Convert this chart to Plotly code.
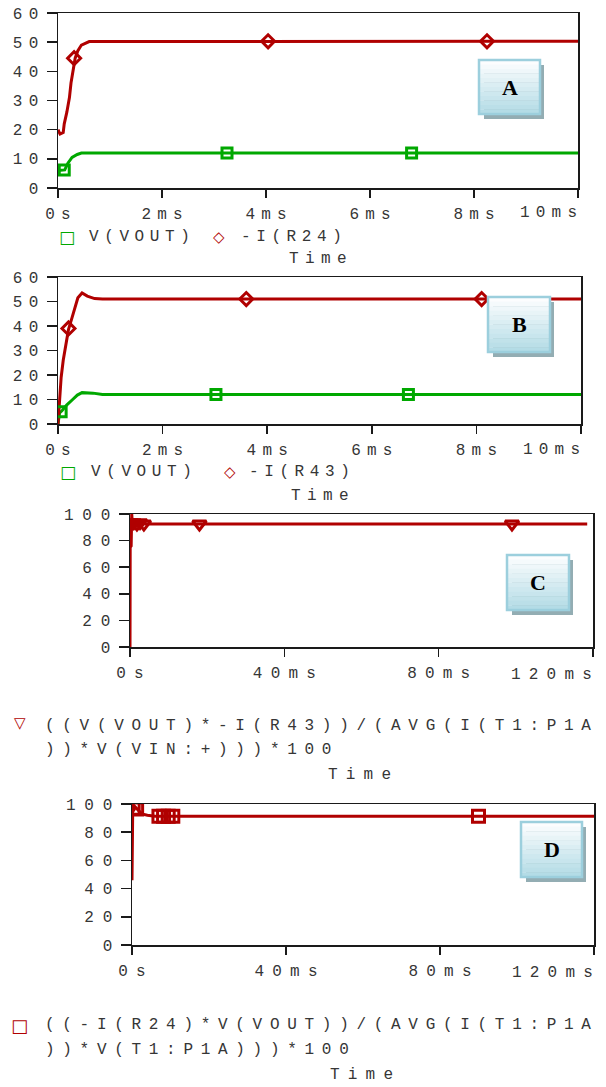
import plotly.graph_objects as go

W, H = 606, 1087

# ---------------- data (time in ms) ----------------
# Panel A
a_vout_t = [0, 0.13, 0.19, 0.27, 0.37, 0.45, 10]
a_vout = [6.0, 6.2, 8.5, 10.5, 11.5, 12.0, 12.0]
a_ir24_t = [0, 0.04, 0.10, 0.12, 0.17, 0.22, 0.25, 0.29, 0.33, 0.38, 0.45, 0.60, 10]
a_ir24 = [20, 18.5, 19, 22, 26, 31, 36, 40, 44.5, 47, 49, 50.2, 50.3]
a_vout_mk_t = [0.12, 3.25, 6.8]
a_vout_mk = [6.2, 12.0, 12.0]
a_ir24_mk_t = [0.31, 4.04, 8.25]
a_ir24_mk = [44.5, 50.3, 50.3]

# Panel B
b_vout_t = [0, 0.03, 0.08, 0.17, 0.27, 0.37, 0.46, 0.67, 0.85, 10]
b_vout = [0, 4.5, 5.5, 7.8, 9.8, 11.8, 12.8, 12.6, 12.0, 12.0]
b_ir43_t = [0, 0.03, 0.06, 0.10, 0.15, 0.20, 0.27, 0.33, 0.38, 0.46, 0.56, 0.70, 0.85, 10]
b_ir43 = [0, 12, 19, 26, 31.5, 38.5, 43.5, 48, 51.5, 53.5, 52.2, 51.2, 51, 51]
b_vout_mk_t = [0.06, 3.02, 6.7]
b_vout_mk = [5.0, 12.0, 12.0]
b_ir43_mk_t = [0.2, 3.6, 8.1]
b_ir43_mk = [39, 51, 51]

# Panel C
c_t = [0, 0.05, 0.3, 0.45, 0.7, 1.0, 1.5, 2.5, 4.0, 118.5]
c_eff = [0, 75, 76, 100, 88, 95, 91, 93.5, 92.5, 92.5]
c_mk_t = [0.3, 1.0, 1.8, 2.6, 3.6, 18, 99]
c_mk = [93.5, 93.5, 92.5, 93.5, 92.5, 92.5, 92.5]

# Panel D
d_t = [0, 0.1, 0.2, 0.4, 0.8, 1.5, 2.5, 4, 6, 120]
d_eff = [46, 85, 100, 95, 98, 96, 93, 92, 91.4, 91.4]
d_mk_t = [0.3, 1.2, 7.0, 8.2, 9.4, 10.6, 90]
d_mk = [97, 96.5, 91.4, 91.4, 91.4, 91.4, 91.4]

# tick labels
ab_xticks = [0, 2, 4, 6, 8, 10]
ab_xlabels = ["0s", "2ms", "4ms", "6ms", "8ms", "10ms"]
ab_yticks = [0, 10, 20, 30, 40, 50, 60]
cd_xticks = [0, 40, 80, 120]
cd_xlabels = ["0s", "40ms", "80ms", "120ms"]
cd_yticks = [0, 20, 40, 60, 80, 100]

RED = "#b00000"
GREEN = "#00a800"
AXC = "#1a1a1a"
TXT = "#363636"
MONO = "Liberation Mono, Courier New, monospace"


def sp(s, ls):
    if len(s) <= 1:
        return s
    return f'<span style="letter-spacing:{ls}px">{s[:-1]}</span>{s[-1]}'


def px(x):
    return x / W


def py(y):
    return 1 - y / H


fig = go.Figure()
ann = []

panels = [
    # suffix, x-range, y-range, xdomain px, ydomain px(top,bottom), xticks, labels, yticks, spacing x, spacing y, label y px
    ("", [0, 10], [0, 60], (58, 578), (13, 188), ab_xticks, ab_xlabels, ab_yticks, 6.2, 6.4, 213),
    ("2", [0, 10], [0, 60], (58, 581), (277, 424), ab_xticks, ab_xlabels, ab_yticks, 6.2, 6.4, 450),
    ("3", [0, 120], [0, 100], (130, 593), (514, 647), cd_xticks, cd_xlabels, cd_yticks, 8.2, 8.8, 675),
    ("4", [0, 120], [0, 100], (132, 594), (804, 945), cd_xticks, cd_xlabels, cd_yticks, 8.2, 8.8, 973),
]

layout_axes = {}
for i, (n, xr, yr, xd, yd, xt, xl, yt, lsx, lsy, ly) in enumerate(panels):
    xname = "xaxis" + n
    yname = "yaxis" + n
    yref = "y" + n
    xref = "x" + n
    main_text = [sp(s, lsx) for s in xl[:-1]] + [""]
    layout_axes[xname] = dict(
        domain=[px(xd[0]), px(xd[1])], range=xr, anchor=yref, automargin=False,
        showline=True, mirror=True, linecolor=AXC, linewidth=1.5,
        ticks="outside", ticklen=8, tickwidth=1.5, tickcolor=AXC,
        tickvals=xt, ticktext=main_text, showgrid=False, zeroline=False,
        tickfont=dict(family=MONO, size=16, color=TXT), ticklabelstandoff=2,
        ticklabeloverflow="allow", fixedrange=True,
    )
    layout_axes[yname] = dict(
        domain=[py(yd[1]), py(yd[0])], range=yr, anchor=xref, automargin=False,
        showline=True, mirror=True, linecolor=AXC, linewidth=1.5,
        ticks="outside", ticklen=10, tickwidth=1.5, tickcolor=AXC,
        tickvals=yt, ticktext=[sp(str(v), lsy) for v in yt],
        showgrid=False, zeroline=False,
        tickfont=dict(family=MONO, size=16, color=TXT), ticklabelstandoff=5,
        ticklabeloverflow="allow", fixedrange=True,
    )
    # last x tick label is right-aligned to its tick (as in the original)
    ann.append(dict(x=xt[-1], xref=xref, y=py(ly), yref="paper", text=sp(xl[-1], lsx),
                    showarrow=False, xanchor="right", yanchor="middle", xshift=1,
                    font=dict(family=MONO, size=16, color=TXT)))


def line(x, y, color, n):
    fig.add_trace(go.Scatter(x=x, y=y, mode="lines", line=dict(color=color, width=3),
                             xaxis="x" + n, yaxis="y" + n, showlegend=False))


def marks(x, y, color, sym, size, n):
    fig.add_trace(go.Scatter(x=x, y=y, mode="markers",
                             marker=dict(symbol=sym, size=size, color=color,
                                         line=dict(color=color, width=3)),
                             xaxis="x" + n, yaxis="y" + n, showlegend=False))


line(a_vout_t, a_vout, GREEN, "")
line(a_ir24_t, a_ir24, RED, "")
marks(a_vout_mk_t, a_vout_mk, GREEN, "square-open", 10, "")
marks(a_ir24_mk_t, a_ir24_mk, RED, "diamond-open", 10, "")

line(b_vout_t, b_vout, GREEN, "2")
line(b_ir43_t, b_ir43, RED, "2")
marks(b_vout_mk_t, b_vout_mk, GREEN, "square-open", 10, "2")
marks(b_ir43_mk_t, b_ir43_mk, RED, "diamond-open", 10, "2")

line(c_t, c_eff, RED, "3")
marks(c_mk_t, c_mk, RED, "triangle-down-open", 12, "3")

line(d_t, d_eff, RED, "4")
marks(d_mk_t, d_mk, RED, "square-open", 12, "4")


# ---------------- text ----------------
def text(x, y, s, anchor="left", size=16, color=TXT, family=MONO):
    ann.append(dict(x=px(x), y=py(y), xref="paper", yref="paper", text=s,
                    showarrow=False, xanchor=anchor, yanchor="middle",
                    font=dict(family=family, size=size, color=color)))


SYM = "DejaVu Sans"
# A legend
text(67, 237, "<b>□</b>", "center", 17, GREEN, SYM)
text(87, 237, sp("V(VOUT)", 5.6))
text(219, 237, "<b>◇</b>", "center", 15, RED, SYM)
text(239, 237, sp("-I(R24)", 5.6))
text(318, 259, sp("Time", 6.4), "center")
# B legend
text(68, 472, "<b>□</b>", "center", 17, GREEN, SYM)
text(89, 472, sp("V(VOUT)", 5.6))
text(230, 472, "<b>◇</b>", "center", 15, RED, SYM)
text(247, 472, sp("-I(R43)", 5.6))
text(320, 496, sp("Time", 6.4), "center")
# C legend
text(20, 723, "<b>▽</b>", "center", 15, RED, SYM)
text(43, 726, sp("((V(VOUT)*-I(R43))/(AVG(I(T1:P1A", 7.7))
text(43, 750, sp("))*V(VIN:+)))*100", 7.7))
text(359, 775, sp("Time", 8.2), "center")
# D legend
text(20, 1025, "<b>□</b>", "center", 18, RED, SYM)
text(43, 1025, sp("((-I(R24)*V(VOUT))/(AVG(I(T1:P1A", 7.7))
text(43, 1050, sp("))*V(T1:P1A)))*100", 7.7))
text(361, 1075, sp("Time", 8.2), "center")

# ---------------- label boxes ----------------
shapes = []
boxes = [("A", 479, 60, 540, 114), ("B", 488, 297, 550, 352),
         ("C", 507, 555, 569, 610), ("D", 521, 822, 582, 877)]
top_c = (252, 253, 254)
bot_c = (180, 220, 230)
NB = 12
for lab, x0, y0, x1, y1 in boxes:
    shapes.append(dict(type="rect", xref="paper", yref="paper",
                       x0=px(x0 + 5), x1=px(x1 + 4), y0=py(y1 + 5), y1=py(y0 + 5),
                       fillcolor="#93adb3", line=dict(width=0)))
    for k in range(NB):
        f = k / (NB - 1)
        c = tuple(int(round(top_c[j] + (bot_c[j] - top_c[j]) * f)) for j in range(3))
        ya = y0 + (y1 - y0) * k / NB
        yb = y0 + (y1 - y0) * (k + 1) / NB
        shapes.append(dict(type="rect", xref="paper", yref="paper",
                           x0=px(x0), x1=px(x1), y0=py(yb + 0.3), y1=py(ya),
                           fillcolor="rgb(%d,%d,%d)" % c, line=dict(width=0)))
    shapes.append(dict(type="rect", xref="paper", yref="paper",
                       x0=px(x0), x1=px(x1), y0=py(y1), y1=py(y0),
                       fillcolor="rgba(0,0,0,0)", line=dict(color="#9ccfdd", width=2.5)))
    text((x0 + x1) / 2, (y0 + y1) / 2, "<b>%s</b>" % lab, "center", 22, "#000000",
         "Liberation Serif, Times New Roman, serif")

fig.update_layout(
    width=W, height=H,
    margin=dict(l=0, r=0, t=0, b=0, pad=0, autoexpand=False),
    paper_bgcolor="white", plot_bgcolor="white",
    showlegend=False, annotations=ann, shapes=shapes,
    hovermode=False,
    **layout_axes,
)

# remove the default page margin so the figure fills the 606x1087 window exactly
fig.write_html("out.html",
               config={"displayModeBar": False, "staticPlot": True},
               post_script="document.body.style.margin='0';document.body.style.overflow='hidden';")
